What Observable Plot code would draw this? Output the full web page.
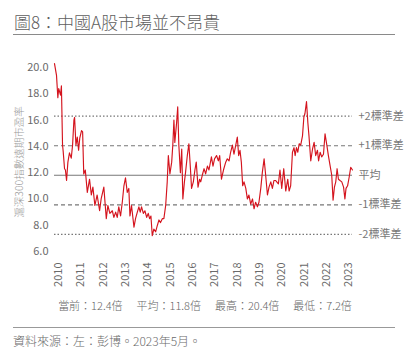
<!DOCTYPE html>
<html><head><meta charset="utf-8">
<script src="https://cdn.jsdelivr.net/npm/d3@7"></script>
<script src="https://cdn.jsdelivr.net/npm/@observablehq/plot@0.6"></script>
<style>
body{margin:0;background:#fff;font-family:"Noto Sans CJK TC","Noto Sans",sans-serif;width:410px;height:359px;overflow:hidden;position:relative}
#title{position:absolute;left:14px;top:11px;font-size:17px;line-height:22px;color:#5e5e5e;font-weight:300;white-space:nowrap}
.rule{position:absolute;left:13px;width:382px;height:0;border-top:1.5px solid #8a8a8a}
#chart{position:absolute;left:0;top:40px}
#ytitle{position:absolute;left:18px;top:162px;transform:translate(-50%,-50%) rotate(-90deg);font-size:10.5px;color:#9a9a9a;white-space:nowrap;font-weight:300}
#stats{position:absolute;top:297px;left:0;width:410px;text-align:center;font-size:11px;line-height:16px;color:#666;white-space:nowrap;font-weight:300}
#stats span{margin:0 7px}
#source{position:absolute;left:13px;top:333px;font-size:12px;line-height:16px;color:#6a6a6a;white-space:nowrap;font-weight:300}
</style>
</head><body>
<div id="title"></div>
<div class="rule" style="top:34px"></div>
<div id="chart"></div>
<div id="ytitle"></div>
<div id="stats"></div>
<div class="rule" style="top:327px;border-top-width:1px;border-color:#999"></div>
<div id="source"></div>
<script>
const titleText = "圖8：中國A股市場並不昂貴";
const yTitle = "滬深300指數遠期市盈率";
const sourceText = "資料來源：左：彭博。2023年5月。";
const statLabels = ["當前", "平均", "最高", "最低"];
const statValues = [12.4, 11.8, 20.4, 7.2];

const years = [2009.82,2009.91,2009.97,2010.01,2010.09,2010.13,2010.18,2010.21,2010.27,2010.31,2010.36,2010.42,2010.49,2010.57,2010.63,2010.69,2010.72,2010.78,2010.84,2010.90,2010.95,2011.03,2011.08,2011.13,2011.20,2011.29,2011.39,2011.47,2011.54,2011.63,2011.73,2011.84,2011.91,2012.03,2012.14,2012.21,2012.30,2012.41,2012.48,2012.56,2012.63,2012.70,2012.78,2012.86,2012.93,2013.00,2013.08,2013.15,2013.20,2013.27,2013.38,2013.45,2013.53,2013.60,2013.66,2013.72,2013.80,2013.87,2013.95,2014.02,2014.08,2014.14,2014.20,2014.27,2014.35,2014.43,2014.50,2014.57,2014.65,2014.72,2014.80,2014.87,2014.92,2014.99,2015.07,2015.12,2015.17,2015.21,2015.29,2015.34,2015.39,2015.46,2015.52,2015.57,2015.64,2015.69,2015.77,2015.84,2015.91,2015.96,2016.04,2016.11,2016.17,2016.25,2016.32,2016.37,2016.44,2016.52,2016.59,2016.67,2016.74,2016.85,2016.92,2016.99,2017.08,2017.16,2017.22,2017.30,2017.39,2017.49,2017.56,2017.64,2017.71,2017.79,2017.86,2017.94,2018.01,2018.07,2018.13,2018.19,2018.25,2018.31,2018.39,2018.46,2018.53,2018.61,2018.69,2018.76,2018.83,2018.91,2018.98,2019.06,2019.13,2019.21,2019.28,2019.36,2019.43,2019.51,2019.58,2019.65,2019.73,2019.85,2019.92,2020.00,2020.09,2020.18,2020.27,2020.33,2020.40,2020.48,2020.55,2020.60,2020.66,2020.72,2020.78,2020.85,2020.93,2020.99,2021.04,2021.11,2021.17,2021.22,2021.30,2021.38,2021.45,2021.52,2021.60,2021.65,2021.72,2021.79,2021.87,2021.94,2022.02,2022.09,2022.17,2022.24,2022.30,2022.36,2022.42,2022.48,2022.54,2022.61,2022.69,2022.77,2022.83,2022.88,2022.95,2023.02,2023.09,2023.17];
const pe = [20.3,19.4,17.7,18.4,17.9,18.6,14.1,13.6,12.3,12.2,11.4,12.8,13.5,13.1,14.1,16.0,16.2,14.1,14.7,13.7,14.6,15.2,15.1,11.9,12.2,10.5,11.5,10.3,10.9,9.5,10.3,9.1,10.0,10.9,8.5,9.5,8.9,9.1,8.6,9.0,8.6,9.4,8.7,9.8,11.0,11.6,10.5,10.8,8.7,9.5,7.85,8.5,9.0,9.4,9.0,9.4,8.9,9.1,8.6,8.9,8.5,8.7,7.2,7.7,7.5,8.0,8.4,8.2,8.5,8.5,9.5,11.3,13.3,11.9,12.8,14.1,16.0,14.3,15.8,17.0,14.1,12.0,13.8,10.0,11.3,12.0,13.3,14.2,12.3,10.8,11.3,12.2,12.8,10.9,11.5,11.3,11.8,12.3,11.9,12.5,12.2,13.2,12.5,13.05,13.3,12.9,13.3,11.5,12.2,12.8,13.05,12.9,13.55,14.1,13.4,14.1,14.7,13.3,13.7,12.8,11.0,11.3,10.8,10.0,10.3,9.6,10.0,9.25,9.75,9.4,9.75,10.8,12.0,13.05,11.8,10.3,10.9,11.3,10.8,11.4,11.4,11.15,12.2,10.8,12.3,10.6,11.5,10.6,11.0,13.55,13.9,13.3,13.9,13.55,14.2,14.1,14.8,16.2,16.5,17.4,15.8,14.8,12.9,13.8,14.3,13.3,13.7,12.9,13.55,13.2,13.4,14.95,14.1,13.3,12.5,11.8,9.9,10.9,11.3,12.3,11.5,11.4,11.3,10.9,10.0,10.8,11.0,11.65,12.4,12.2];

const tickYears = [2010,2011,2012,2013,2014,2015,2016,2017,2018,2019,2020,2021,2022,2023];
const yTicks = [6,8,10,12,14,16,18,20];
const bandK = [2,1,0,-1,-2];
const bandLabels = ["+2標準差","+1標準差","平均","-1標準差","-2標準差"];
const meanPE = 11.8;
const sdPE = 2.25;

document.getElementById("title").textContent = titleText;
document.getElementById("ytitle").textContent = yTitle;
document.getElementById("source").textContent = sourceText;
document.getElementById("stats").innerHTML = statLabels.map((l,i)=>`<span>${l}：${statValues[i].toFixed(1)}倍</span>`).join("");

const data = years.map((t,i)=>({t, v: pe[i]}));
const bands = bandK.map((k,i)=>({k, y: meanPE + k*sdPE, label: bandLabels[i]}));
const xmax = d3.max(years);

const chart = Plot.plot({
  width: 410, height: 250,
  marginLeft: 54, marginRight: 58, marginTop: 27, marginBottom: 39,
  style: {fontSize: "11px", color: "#6a6a6a", fontFamily: '"Noto Sans CJK TC","Noto Sans",sans-serif', background: "transparent"},
  x: {domain: d3.extent(years), ticks: tickYears, tickFormat: d => String(d), tickRotate: -90, tickSize: 0, tickPadding: 11, label: null},
  y: {domain: [6, 20], ticks: yTicks, tickFormat: d => d.toFixed(1), tickSize: 0, tickPadding: 6, label: null},
  marks: [
    Plot.ruleY(bands.filter(d => d.k === 0), {y: "y", stroke: "#777", strokeWidth: 1.2}),
    Plot.ruleY(bands.filter(d => Math.abs(d.k) === 1), {y: "y", stroke: "#777", strokeWidth: 1.1, strokeDasharray: "4,3"}),
    Plot.ruleY(bands.filter(d => Math.abs(d.k) === 2), {y: "y", stroke: "#777", strokeWidth: 1.1, strokeDasharray: "1.5,2"}),
    Plot.line(data, {x: "t", y: "v", stroke: "#d4141e", strokeWidth: 1.15}),
    Plot.text(bands, {x: () => xmax, y: "y", text: "label", textAnchor: "start", dx: 6, fill: "#777", fontSize: 11})
  ]
});
document.getElementById("chart").appendChild(chart);
</script>
</body></html>
